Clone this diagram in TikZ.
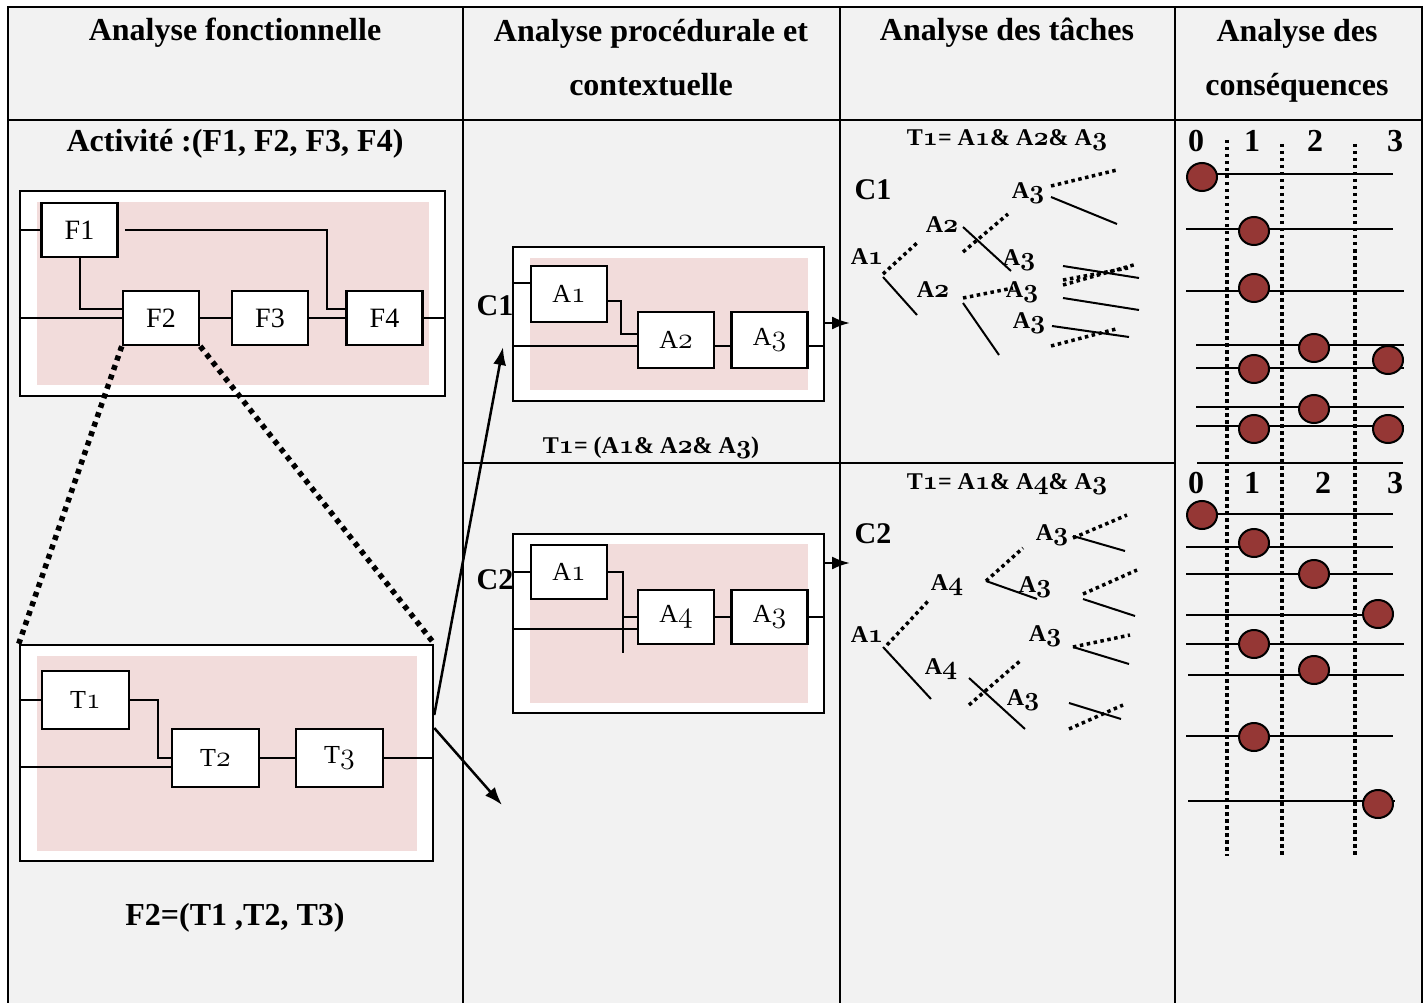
\RequirePackage{fix-cm}
\documentclass[tikz,border=0pt]{standalone}
\usepackage{fontspec}
\setmainfont{Liberation Serif}
\usetikzlibrary{arrows.meta}
\definecolor{cellgray}{HTML}{F2F2F2}
\definecolor{rose}{HTML}{F2DCDB}
\definecolor{bead}{HTML}{953735}
\makeatletter
\newcommand{\osf}[1]{{\fontsize{\fpeval{1.15*\f@size}}{0}\usefont{OML}{cmm}{m}{it}#1}}
\newcommand{\osfb}[1]{{\fontsize{\fpeval{1.1*\f@size}}{0}\usefont{OML}{cmm}{b}{it}#1}}
\makeatother
\begin{document}
\begin{tikzpicture}[x=1pt,y=-1pt,every text node part/.style={align=center},
  headtxt/.style={font=\bfseries\fontsize{32}{54}\selectfont},
  frame/.style={draw,fill=white,line width=2.5pt},
  fbox/.style={draw,fill=white,line width=2.5pt,minimum width=76,minimum height=54,font=\fontsize{28}{28}\selectfont},
  abox/.style={fbox,font=\fontsize{26}{26}\selectfont},
  tbox/.style={fbox,minimum width=87,minimum height=58,font=\fontsize{26}{26}\selectfont},
  wire/.style={line width=2pt},
  tabline/.style={line width=2.5pt},
  zoomline/.style={line width=5.5pt,dash pattern=on 5pt off 5pt},
  treeline/.style={line width=2pt},
  treedot/.style={line width=3.5pt,dash pattern=on 3.5pt off 3.5pt},
  formula/.style={font=\bfseries\fontsize{24}{24}\selectfont},
  leaf/.style={font=\bfseries\fontsize{24}{24}\selectfont},
  case/.style={font=\bfseries\fontsize{30}{30}\selectfont},
  scaleno/.style={font=\bfseries\fontsize{32}{32}\selectfont},
  bille/.style={fill=bead,draw=black,line width=2pt},
  link/.style={line width=2.5pt,-{Latex[length=18pt,width=13pt]}}]
\tikzstyle{every node}+=[inner sep=0pt]
\useasboundingbox (0,0) rectangle (1427,1003);
\fill[cellgray] (8,7) rectangle (1422,1003);
\draw[tabline] (8,1003) -- (8,7) -- (1422,7) -- (1422,1003);
\draw[tabline] (8,120) -- (1422,120);
\draw[tabline] (463,7) -- (463,1003);
\draw[tabline] (840,7) -- (840,1003);
\draw[tabline] (1175,7) -- (1175,1003);
\draw[tabline] (463,463) -- (1175,463);
\draw[tabline] (1197,463) -- (1403,463);
\node[headtxt,anchor=base] (hfonc) at (235,41) {Analyse fonctionnelle};
\node[headtxt,anchor=north] (hproc) at (651,19) {Analyse procédurale et\\contextuelle};
\node[headtxt,anchor=base] (htach) at (1007,41) {Analyse des tâches};
\node[headtxt,anchor=north] (hcons) at (1297,19) {Analyse des\\conséquences};
\node[headtxt,anchor=base] (activ) at (235,152) {Activité :(F1, F2, F3, F4)};
\node[frame,minimum width=425,minimum height=205] (fcadre) at (232.5,293.5) {};
\fill[rose] (37,202) rectangle (429,385);
\node[fbox] (f1) at (79.5,230) {F1};
\node[fbox] (f2) at (161,318) {F2};
\node[fbox] (f3) at (270,318) {F3};
\node[fbox] (f4) at (384.5,318) {F4};
\draw[wire] (fcadre.west |- f1) -- (f1.west);
\draw[wire] ([xshift=6pt]f1.east) -| ([xshift=-18pt,yshift=9pt]f4.west) -- ([yshift=9pt]f4.west);
\draw[wire] (f1.south) |- ([yshift=9pt]f2.west);
\draw[wire] (fcadre.west |- f2) -- (f2.west);
\draw[wire] (f2.east) -- (f3.west);
\draw[wire] (f3.east) -- (f4.west);
\draw[wire] (f4.east) -- (fcadre.east |- f4);
\node[frame,minimum width=413,minimum height=216] (tcadre) at (226.5,753) {};
\fill[rose] (37,656) rectangle (417,851);
\node[tbox] (t1) at (85.5,700) {T\osf{1}};
\node[tbox] (t2) at (215.5,758) {T\osf{2}};
\node[tbox] (t3) at (339.5,758) {T\osf{3}};
\draw[wire] (tcadre.west |- t1) -- (t1.west);
\draw[wire] (t1.east) -- ++(28,0) |- (t2.west);
\draw[wire] (tcadre.west |- 0,767) -- ([yshift=-9pt]t2.west);
\draw[wire] (t2.east) -- (t3.west);
\draw[wire] (t3.east) -- (tcadre.east |- t3);
\draw[zoomline] (f2.south west) -- (tcadre.north west);
\draw[zoomline] (f2.south east) -- (tcadre.north east);
\node[headtxt,anchor=base] (fdeux) at (235,925) {F2=(T1 ,T2, T3)};
\node[frame,minimum width=311,minimum height=154] (c1cadre) at (668.5,324) {};
\fill[rose] (530,258) rectangle (808,390);
\node[abox,minimum height=56] (c1a1) at (569,294) {A\osf{1}};
\node[abox,minimum height=56] (c1a2) at (676,340) {A\osf{2}};
\node[abox,minimum height=56] (c1a3) at (769.5,340) {A\osf{3}};
\draw[wire] (c1cadre.west |- 0,283) -- ([yshift=11pt]c1a1.west);
\draw[wire] ([yshift=-7pt]c1a1.east) -| ([xshift=-16pt,yshift=6pt]c1a2.west) -- ([yshift=6pt]c1a2.west);
\draw[wire] (c1cadre.west |- 0,346) -- ([yshift=-6pt]c1a2.west);
\draw[wire] ([yshift=-6pt]c1a2.east) -- ([yshift=-6pt]c1a3.west);
\draw[wire] ([yshift=-6pt]c1a3.east) -- (c1cadre.east |- 0,346);
\coordinate (c1sortie) at (850,323);
\draw[link] (c1cadre.east |- c1sortie) -- (c1sortie);
\node[case] (c1nom) at (495,306) {C1};
\node[formula,anchor=base] (c1form) at (651,453) {T\osfb{1}= (A\osfb{1}\& A\osfb{2}\& A\osfb{3})};
\node[frame,minimum width=311,minimum height=179] (c2cadre) at (668.5,623.5) {};
\fill[rose] (530,544) rectangle (808,703);
\node[abox] (c2a1) at (569,572) {A\osf{1}};
\node[abox] (c2a4) at (676,617) {A\osf{4}};
\node[abox] (c2a3) at (769.5,617) {A\osf{3}};
\draw[wire] (c2cadre.west |- c2a1) -- (c2a1.west);
\draw[wire] (c2a1.east) -- ++(15,0) coordinate (c2noeud) -- ++(0,81);
\draw[wire] (c2noeud |- c2a4) -- (c2a4.west);
\draw[wire] (c2cadre.west |- 0,629) -- ([yshift=-12pt]c2a4.west);
\draw[wire] (c2a4.east) -- (c2a3.west);
\draw[wire] (c2a3.east) -- (c2cadre.east |- c2a3);
\coordinate (c2sortie) at (850,563);
\draw[link] (c2cadre.east |- c2sortie) -- (c2sortie);
\node[case] (c2nom) at (495,580) {C2};
\coordinate (c1pied) at (503,347);
\coordinate (vide) at (502,805);
\draw[link] ([yshift=38pt]tcadre.east) -- (c1pied);
\draw[link] ([yshift=25pt]tcadre.east) -- (vide);
\node[formula,anchor=base] (t1c1) at (1007,146) {T\osfb{1}= A\osfb{1}\& A\osfb{2}\& A\osfb{3}};
\node[case] (c1arbre) at (873,190) {C1};
\node[leaf] (c1t1) at (867,257) {A\osfb{1}};
\node[leaf] (c1t2h) at (942,225) {A\osfb{2}};
\node[leaf] (c1t2b) at (933,290) {A\osfb{2}};
\node[leaf] (c1t3a) at (1028,193) {A\osfb{3}};
\node[leaf] (c1t3b) at (1019,260) {A\osfb{3}};
\node[leaf] (c1t3c) at (1022,292) {A\osfb{3}};
\node[leaf] (c1t3d) at (1029,323) {A\osfb{3}};
\draw[treedot] (883,274) -- (917,243);
\draw[treeline] (883,277) -- (917,315);
\draw[treedot] (963,252) -- (1008,214);
\draw[treeline] (963,227) -- (1011,271);
\draw[treedot] (963,298) -- (1013,288);
\draw[treeline] (963,303) -- (999,355);
\draw[treedot] (1051,186) -- (1117,170);
\draw[treeline] (1051,197) -- (1117,224);
\draw[treeline] (1063,266) -- (1139,278);
\draw[treedot] (1063,285) -- (1137,264);
\draw[treedot] (1063,280) -- (1128,268);
\draw[treeline] (1063,298) -- (1139,310);
\draw[treeline] (1052,326) -- (1129,337);
\draw[treedot] (1051,346) -- (1116,329);
\node[formula,anchor=base] (t1c2) at (1007,489) {T\osfb{1}= A\osfb{1}\& A\osfb{4}\& A\osfb{3}};
\node[case] (c2arbre) at (873,534) {C2};
\node[leaf] (c2t1) at (867,635) {A\osfb{1}};
\node[leaf] (c2t4h) at (947,585) {A\osfb{4}};
\node[leaf] (c2t4b) at (941,669) {A\osfb{4}};
\node[leaf] (c2t3a) at (1052,535) {A\osfb{3}};
\node[leaf] (c2t3b) at (1035,587) {A\osfb{3}};
\node[leaf] (c2t3c) at (1045,636) {A\osfb{3}};
\node[leaf] (c2t3d) at (1023,700) {A\osfb{3}};
\draw[treedot] (887,645) -- (930,599);
\draw[treeline] (883,647) -- (931,699);
\draw[treedot] (986,581) -- (1023,548);
\draw[treeline] (986,581) -- (1037,599);
\draw[treedot] (969,705) -- (1020,661);
\draw[treeline] (969,678) -- (1025,729);
\draw[treedot] (1073,538) -- (1127,515);
\draw[treeline] (1073,536) -- (1125,551);
\draw[treedot] (1083,594) -- (1137,570);
\draw[treeline] (1083,599) -- (1135,616);
\draw[treedot] (1073,647) -- (1130,635);
\draw[treeline] (1073,647) -- (1129,664);
\draw[treeline] (1069,703) -- (1121,719);
\draw[treedot] (1069,729) -- (1123,705);
\node[scaleno] (n0h) at (1196,141) {0};
\node[scaleno] (n1h) at (1252,141) {1};
\node[scaleno] (n2h) at (1315,141) {2};
\node[scaleno] (n3h) at (1395,141) {3};
\node[scaleno] (n0b) at (1196,483) {0};
\node[scaleno] (n1b) at (1252,483) {1};
\node[scaleno] (n2b) at (1323,483) {2};
\node[scaleno] (n3b) at (1395,483) {3};
\draw[treedot] (1227,140) -- (1227,856);
\draw[treedot] (1282,144) -- (1282,856);
\draw[treedot] (1355,144) -- (1355,856);
\draw[treeline] (1202,174) -- (1393,174);
\draw[treeline] (1186,229) -- (1393,229);
\draw[treeline] (1186,291) -- (1404,291);
\draw[treeline] (1196,345) -- (1404,345);
\draw[treeline] (1196,368) -- (1404,368);
\draw[treeline] (1196,407) -- (1404,407);
\draw[treeline] (1196,426) -- (1404,426);
\draw[treeline] (1202,514) -- (1393,514);
\draw[treeline] (1186,547) -- (1393,547);
\draw[treeline] (1186,574) -- (1393,574);
\draw[treeline] (1186,615) -- (1370,615);
\draw[treeline] (1186,644) -- (1404,644);
\draw[treeline] (1188,675) -- (1404,675);
\draw[treeline] (1186,736) -- (1393,736);
\draw[treeline] (1188,801) -- (1395,801);
\draw[bille] (1202,177) ellipse (15 and 14);
\draw[bille] (1254,231) ellipse (15 and 14);
\draw[bille] (1254,288) ellipse (15 and 14);
\draw[bille] (1314,348) ellipse (15 and 14);
\draw[bille] (1254,369) ellipse (15 and 14);
\draw[bille] (1388,360) ellipse (15 and 14);
\draw[bille] (1314,409) ellipse (15 and 14);
\draw[bille] (1254,429) ellipse (15 and 14);
\draw[bille] (1388,429) ellipse (15 and 14);
\draw[bille] (1202,515) ellipse (15 and 14);
\draw[bille] (1254,543) ellipse (15 and 14);
\draw[bille] (1314,574) ellipse (15 and 14);
\draw[bille] (1378,614) ellipse (15 and 14);
\draw[bille] (1254,644) ellipse (15 and 14);
\draw[bille] (1314,670) ellipse (15 and 14);
\draw[bille] (1254,737) ellipse (15 and 14);
\draw[bille] (1378,804) ellipse (15 and 14);
\end{tikzpicture}
\end{document}
